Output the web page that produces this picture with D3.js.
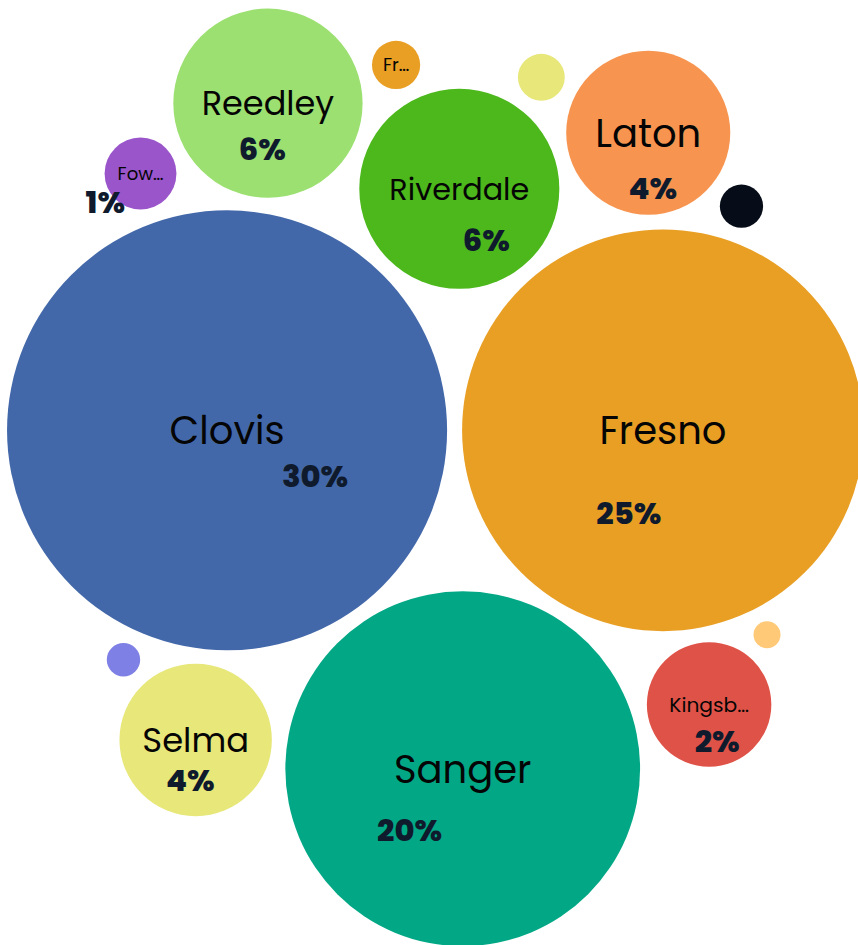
<!DOCTYPE html>
<html>
<head>
<meta charset="utf-8">
<script src="https://cdn.jsdelivr.net/npm/d3@7"></script>
<style>
    html, body { margin: 0; padding: 0; background: #fff; overflow: hidden; }
    svg { display: block; }
    text { font-family: Poppins, "Open Sans", sans-serif; }
</style>
</head>
<body>
<div id="chart"></div>
<script>
// share of records by city (%)
var cities = ["Clovis", "Fresno", "Sanger", "Riverdale", "Reedley", "Laton", "Selma",
    "Kingsburg", "Fowler", "Friant", "Mendota", "Parlier", "Kerman", "Orange Cove"];
var shares = [30, 25, 19.5, 6.2, 5.55, 4.17, 3.6, 2.4, 0.8, 0.36, 0.34, 0.29, 0.173, 0.113];

var colors = ["#4368a9", "#e89f24", "#02a886", "#4cb81c", "#9be070", "#f79550", "#e7e77a",
    "#df5247", "#9a55cb", "#e89f24", "#e7e77a", "#060d18", "#7f80e5", "#ffc978"];

// where the % label sits, in radii from the bubble centre
var pctNudge = [[0.40, 0.21], [-0.17, 0.41], [-0.30, 0.345], [0.27, 0.51], [-0.06, 0.48],
    [0.055, 0.67], [-0.07, 0.52], [0.13, 0.58], [-0.98, 0.78]];

var W = 858, H = 945;
var RK = 40.17;          // px of radius per sqrt(%)
var PAD = 15;
var CENTER = [418, 464];
var NAME_MIN = 0.35;     // smaller bubbles get no name

var total = d3.sum(shares);

var svg = d3.select("#chart").append("svg")
    .attr("width", W)
    .attr("height", H);

var root = d3.hierarchy({
        children: cities.map(function(c, i) {
            return {name: c, value: shares[i], idx: i};
        })
    })
    .sum(function(d) { return d.value || 0; })
    .sort(function(a, b) { return b.value - a.value; });

d3.pack()
    .size([CENTER[0] * 2, CENTER[1] * 2])
    .radius(function(d) { return RK * Math.sqrt(d.value); })
    .padding(PAD)(root);

var node = svg.selectAll("g.bubble")
    .data(root.leaves())
    .join("g")
    .attr("class", "bubble")
    .attr("transform", function(d) {
        return "translate(" + d.x + "," + d.y + ")";
    });

node.append("circle")
    .attr("r", function(d) { return d.r; })
    .attr("fill", function(d) { return colors[d.data.idx]; });

function shorten(s, n) {
    return s.length <= n ? s : s.slice(0, n) + "\u2026";
}

var names = node.filter(function(d) { return d.data.value >= NAME_MIN; })
    .append("text")
    .attr("text-anchor", "middle")
    .attr("dy", "0.36em")
    .attr("fill", "#050505")
    .style("font-size", "100px")
    .text(function(d) { return shorten(d.data.name, Math.floor(d.r / 10)); });

// fit each name into the bubble, a bit tighter when it was cut
names.each(function(d) {
    var em = this.getComputedTextLength() / 100;
    var cut = d.data.name.length > Math.floor(d.r / 10);
    var fs = Math.min(38.5, 0.75 * d.r, (cut ? 1.28 : 1.4) * d.r / em);
    d3.select(this).style("font-size", fs + "px");
});

node.filter(function(d) { return Math.round(d.data.value / total * 100) >= 1; })
    .append("text")
    .attr("text-anchor", "middle")
    .attr("dy", "0.36em")
    .attr("x", function(d) { return pctNudge[d.data.idx][0] * d.r; })
    .attr("y", function(d) { return pctNudge[d.data.idx][1] * d.r; })
    .attr("fill", "#0f1b2d")
    .style("font-size", "30.5px")
    .style("font-weight", 800)
    .text(function(d) { return Math.round(d.data.value / total * 100) + "%"; });
</script>
</body>
</html>
